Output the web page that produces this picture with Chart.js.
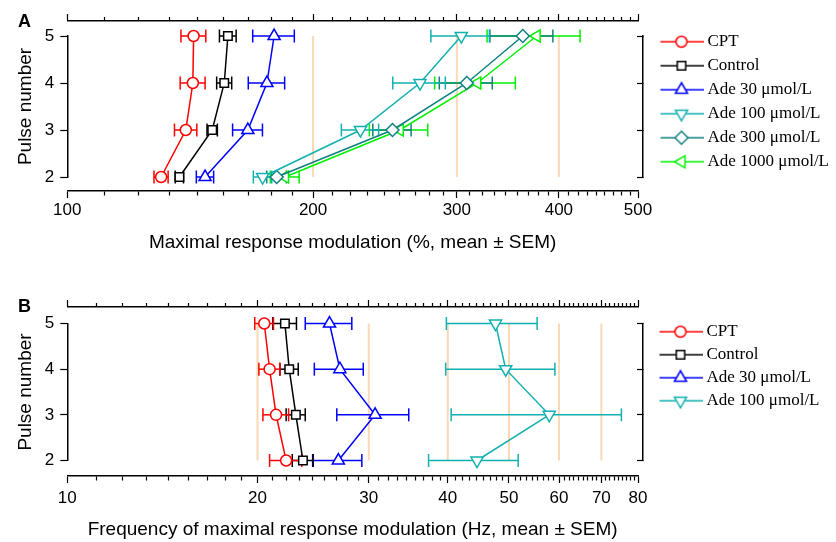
<!DOCTYPE html>
<html>
<head>
<meta charset="utf-8">
<script src="https://cdn.jsdelivr.net/npm/chart.js@4.4.0/dist/chart.umd.min.js"></script>
<style>
  body { margin: 0; background: #fff; }
  #wrap { position: relative; width: 836px; height: 542px; }
  canvas { position: absolute; left: 0; }
  .tag { position: absolute; left: 18px; font: bold 18px "Liberation Sans", Arial, sans-serif; color: #000; }
</style>
</head>
<body>
<div id="wrap">
  <canvas id="chartA" width="836" height="270" style="top:0"></canvas>
  <canvas id="chartB" width="836" height="272" style="top:270px"></canvas>
  <div class="tag" style="top:11px">A</div>
  <div class="tag" style="top:296px">B</div>
</div>
<script>
// pulse numbers (y categories)
const pulses = [2, 3, 4, 5];

// panel A: maximal response modulation (%), mean and SEM per pulse 2..5
const cptA = [130.3, 139.7, 142.5, 142.8];
const cptA_sem = [2.6, 4.4, 5.0, 5.0];
const ctrlA = [137.2, 150.5, 155.7, 157.3];
const ctrlA_sem = [1.6, 2.2, 3.3, 3.7];
const ade30A = [147.5, 166.4, 175.6, 179.2];
const ade30A_sem = [3.6, 7.0, 9.0, 10.5];
const ade100A = [173.5, 228.6, 270.4, 303.8];
const ade100A_sem = [4.5, 12, 20, 25];
const ade300A = [180.5, 250.2, 308.5, 361.3];
const ade300A_sem = [5, 13.5, 23, 32];
const ade1000A = [184.8, 255.4, 317.8, 375.7];
const ade1000A_sem = [7.5, 21, 36, 49];

// panel B: frequency of maximal response modulation (Hz)
const cptB = [22.2, 21.4, 20.9, 20.5];
const cptB_sem = [1.3, 1.0, 0.8, 0.7];
const ctrlB = [23.6, 23.0, 22.45, 22.1];
const ctrlB_sem = [0.9, 0.8, 0.75, 0.95];
const ade30B = [26.85, 30.7, 27.0, 26.0];
const ade30B_sem = [2.4, 4.0, 2.4, 2.2];
const ade100B = [44.5, 57.9, 49.4, 47.6];
const ade100B_sem = [7.2, 17.4, 9.7, 7.8];

// axis ticks
const majorTicksA = [100, 200, 300, 400, 500];
const majorTicksB = [10, 20, 30, 40, 50, 60, 70, 80];
const refLinesA = [200, 300, 400];
const refLinesB = [20, 30, 40, 50, 60, 70];
const MINOR_PER_GAP = 8;

const SANS = '"Liberation Sans", Arial, sans-serif';
const SERIF = '"Liberation Serif", "Times New Roman", serif';

const seriesA = [
  { label: 'CPT', mean: cptA, sem: cptA_sem, color: '#ff0000', style: 'circle', r: 5.5, rot: 0 },
  { label: 'Control', mean: ctrlA, sem: ctrlA_sem, color: '#000000', style: 'rect', r: 6, rot: 0 },
  { label: 'Ade 30 μmol/L', mean: ade30A, sem: ade30A_sem, color: '#0000ff', style: 'triangle', r: 7, rot: 0 },
  { label: 'Ade 100 μmol/L', mean: ade100A, sem: ade100A_sem, color: '#12b0b0', style: 'triangle', r: 7, rot: 180 },
  { label: 'Ade 300 μmol/L', mean: ade300A, sem: ade300A_sem, color: '#108080', style: 'rectRot', r: 6.5, rot: 0 },
  { label: 'Ade 1000 μmol/L', mean: ade1000A, sem: ade1000A_sem, color: '#00f000', style: 'triangle', r: 7, rot: 270 }
];
const seriesB = [
  { label: 'CPT', mean: cptB, sem: cptB_sem, color: '#ff0000', style: 'circle', r: 5.5, rot: 0 },
  { label: 'Control', mean: ctrlB, sem: ctrlB_sem, color: '#000000', style: 'rect', r: 6, rot: 0 },
  { label: 'Ade 30 μmol/L', mean: ade30B, sem: ade30B_sem, color: '#0000ff', style: 'triangle', r: 7, rot: 0 },
  { label: 'Ade 100 μmol/L', mean: ade100B, sem: ade100B_sem, color: '#12b0b0', style: 'triangle', r: 7, rot: 180 }
];

// majors plus 8 evenly spaced minor ticks between each pair
function allTicks(majors) {
  const out = [];
  majors.forEach((m, i) => {
    out.push(m);
    if (i < majors.length - 1) {
      const step = (majors[i + 1] - m) / (MINOR_PER_GAP + 1);
      for (let k = 1; k <= MINOR_PER_GAP; k++) out.push(m + k * step);
    }
  });
  return out;
}

function makeDatasets(series, refs) {
  const lines = series.map(s => ({
    label: s.label,
    data: pulses.map((p, i) => ({ x: s.mean[i], y: p })),
    borderColor: s.color,
    borderWidth: 1.5,
    pointStyle: s.style,
    pointRadius: s.r,
    pointRotation: s.rot,
    pointBorderWidth: 1.5,
    pointBorderColor: s.color,
    pointBackgroundColor: '#fff',
    clip: false,
    order: 0
  }));
  const bars = [];
  series.forEach(s => pulses.forEach((p, i) => {
    bars.push({
      label: '_err',
      data: [{ x: s.mean[i] - s.sem[i], y: p }, { x: s.mean[i] + s.sem[i], y: p }],
      borderColor: s.color,
      borderWidth: 1.5,
      pointStyle: 'line',
      pointRotation: 90,
      pointRadius: 6.5,
      pointBorderWidth: 1.5,
      pointBorderColor: s.color,
      clip: false,
      order: 1
    });
  }));
  const guides = refs.map(v => ({
    label: '_ref',
    data: [{ x: v, y: 2 }, { x: v, y: 5 }],
    borderColor: '#fdd8b4',
    borderWidth: 2,
    pointRadius: 0,
    clip: false,
    order: 2
  }));
  return lines.concat(bars, guides);
}

// little line + marker picture for the legend
function legendIcon(s) {
  const c = document.createElement('canvas');
  c.width = 56; c.height = 18;
  const ctx = c.getContext('2d');
  ctx.strokeStyle = s.color;
  ctx.lineWidth = 1.5;
  ctx.beginPath(); ctx.moveTo(13, 9); ctx.lineTo(56, 9); ctx.stroke();
  ctx.fillStyle = '#fff';
  Chart.helpers.drawPoint(ctx, { pointStyle: s.style, rotation: s.rot, radius: s.r, borderWidth: 1.5 }, 34, 9);
  return c;
}

function makeChart(id, cfg) {
  const ticks = allTicks(cfg.majors);
  const isMajor = v => cfg.majors.includes(v);
  const setTicks = sc => { sc.ticks = ticks.map(v => ({ value: v })); };
  const setPulseTicks = sc => { sc.ticks = pulses.map(v => ({ value: v })); };
  const blank = (pos, size) => ({
    type: 'linear', position: pos, weight: 0,
    ticks: { display: false }, grid: { display: false }, border: { display: false },
    afterFit: sc => { if (pos === 'right') sc.width = size; else sc.height = size; }
  });

  return new Chart(document.getElementById(id), {
    type: 'line',
    data: { datasets: makeDatasets(cfg.series, cfg.refs) },
    options: {
      responsive: false,
      animation: false,
      events: [],
      layout: { padding: cfg.pad },
      plugins: {
        tooltip: { enabled: false },
        legend: {
          position: 'right',
          align: 'start',
          maxWidth: cfg.legendWidth,
          title: { display: true, text: ' ', font: { size: 1 }, padding: { top: cfg.legendTop, bottom: 0 } },
          labels: {
            usePointStyle: true,
            pointStyleWidth: 47,
            padding: cfg.legendGap,
            color: '#000',
            font: { family: SERIF, size: 17 },
            generateLabels: chart => Chart.defaults.plugins.legend.labels.generateLabels(chart)
              .filter(it => it.datasetIndex < cfg.series.length)
              .map(it => {
                it.pointStyle = legendIcon(cfg.series[it.datasetIndex]);
                it.rotation = 0;
                it.fontColor = '#000';
                return it;
              })
          }
        }
      },
      scales: {
        x: {
          type: 'logarithmic', position: 'bottom', weight: 1,
          min: cfg.majors[0], max: cfg.majors[cfg.majors.length - 1],
          afterBuildTicks: setTicks,
          ticks: {
            autoSkip: false, maxRotation: 0, minRotation: 0, padding: cfg.tickPad,
            color: '#000', font: { family: SANS, size: 17 },
            callback: v => isMajor(v) ? String(v) : ''
          },
          grid: {
            drawOnChartArea: false, tickLength: 7, tickColor: '#000', tickWidth: 1.2,
            tickBorderDash: c => isMajor(c.tick.value) ? [] : [4, 20]
          },
          border: { color: '#000', width: 1.5 },
          title: {
            display: true, text: cfg.xTitle, color: '#000',
            font: { family: SANS, size: 19 }, padding: cfg.titlePad
          }
        },
        xTop: {
          type: 'logarithmic', position: 'top', weight: 1,
          min: cfg.majors[0], max: cfg.majors[cfg.majors.length - 1],
          afterBuildTicks: setTicks,
          ticks: { display: false },
          grid: {
            drawOnChartArea: false, tickLength: 7, tickColor: '#000', tickWidth: 1.2,
            tickBorderDash: c => isMajor(c.tick.value) ? [] : [0, 3, 4, 20]
          },
          border: { color: '#000', width: 1.5 }
        },
        gapBottom: blank('bottom', cfg.gapBottom),
        gapTop: blank('top', cfg.gapTop),
        gapRight: blank('right', 5),
        y: {
          type: 'linear', position: 'left', min: 2, max: 5,
          afterBuildTicks: setPulseTicks,
          ticks: { padding: 6, color: '#000', font: { family: SANS, size: 17 } },
          grid: { drawOnChartArea: false, tickLength: 7, tickColor: '#000', tickWidth: 1.2 },
          border: { color: '#000', width: 1.5 },
          title: {
            display: true, text: 'Pulse number', color: '#000',
            font: { family: SANS, size: 19 }, padding: { top: 10, bottom: 2 }
          }
        },
        yRight: {
          type: 'linear', position: 'right', weight: 1, min: 2, max: 5,
          afterBuildTicks: setPulseTicks,
          ticks: { display: false },
          grid: { drawOnChartArea: false, tickLength: -6, tickColor: '#000', tickWidth: 1.2 },
          border: { color: '#000', width: 1.5 },
          afterFit: sc => { sc.width = 2; }
        }
      }
    }
  });
}

makeChart('chartA', {
  series: seriesA, refs: refLinesA, majors: majorTicksA,
  xTitle: 'Maximal response modulation (%, mean ± SEM)',
  pad: { left: 4, right: 2, top: 14, bottom: 11.6 },
  gapTop: 15, gapBottom: 14, tickPad: 2,
  titlePad: { top: 9.2, bottom: 4 },
  legendWidth: 189, legendTop: 11, legendGap: 7
});

makeChart('chartB', {
  series: seriesB, refs: refLinesB, majors: majorTicksB,
  xTitle: 'Frequency of maximal response modulation (Hz, mean ± SEM)',
  pad: { left: 4, right: 11, top: 30, bottom: 0 },
  gapTop: 16.5, gapBottom: 15.5, tickPad: 5,
  titlePad: { top: 5.2, bottom: 0.6 },
  legendWidth: 180, legendTop: 16, legendGap: 6
});
</script>
</body>
</html>
